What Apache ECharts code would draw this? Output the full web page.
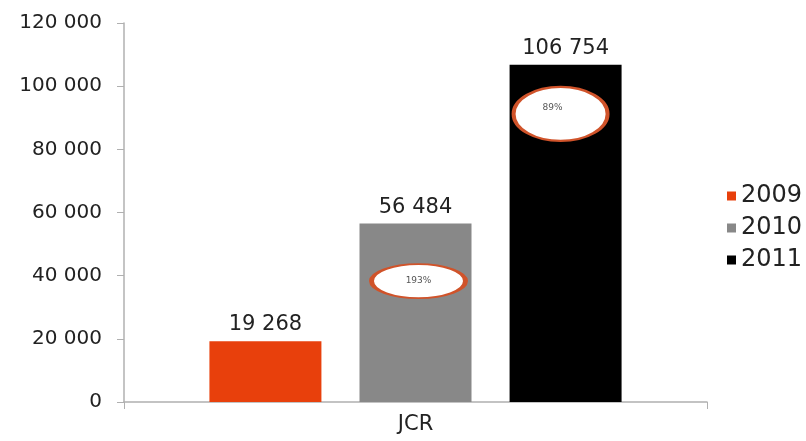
<!DOCTYPE html>
<html>
<head>
<meta charset="utf-8">
<script src="https://cdn.jsdelivr.net/npm/echarts@6/dist/echarts.min.js"></script>
<style>html,body{margin:0;padding:0;background:#fff}#c{width:806px;height:441px}</style>
</head>
<body>
<div id="c"></div>
<script>
var categories = ['JCR'];
var seriesNames = ['2009', '2010', '2011'];
var values2009 = [19268];
var values2010 = [56484];
var values2011 = [106754];
var growthLabels = ['', '193%', '89%'];
var growthY = [null, 38300, 91200];
var colors = ['#e8400c', '#888888', '#000000'];
var yTicks = [0, 20000, 40000, 60000, 80000, 100000, 120000];

function fmt(v) { return String(v).replace(/\B(?=(\d{3})+(?!\d))/g, ' '); }

var allValues = [values2009, values2010, values2011];
var FONT = 'DejaVu Sans';
var series = seriesNames.map(function (name, i) {
  var s = {
    name: name,
    type: 'bar',
    data: allValues[i],
    barWidth: 112,
    barGap: '34%',
    itemStyle: { color: colors[i] },
    label: {
      show: true, position: 'top', distance: 6,
      formatter: function (p) { return fmt(p.value); },
      fontFamily: FONT, fontSize: 21, color: '#222'
    }
  };
  if (growthLabels[i]) {
    s.markPoint = {
      symbol: 'circle',
      symbolSize: i === 1 ? [94, 34] : [94, 54],
      symbolOffset: i === 1 ? [3, 0] : [-5, 0],
      itemStyle: { color: '#ffffff', borderColor: '#d0532a', borderWidth: 3 },
      label: { show: true, formatter: growthLabels[i], fontFamily: FONT, fontSize: 9, color: '#555', offset: i === 2 ? [-8, -6] : [0, 0] },
      data: [{ coord: [categories[0], growthY[i]] }],
      animation: false
    };
  }
  return s;
});

var chart = echarts.init(document.getElementById('c'));
chart.setOption({
  animation: false,
  backgroundColor: '#fff',
  grid: { left: 124, right: 99, top: 23, bottom: 39 },
  legend: {
    orient: 'vertical', left: 722, top: 179,
    icon: 'rect', itemWidth: 9, itemHeight: 9, itemGap: 8,
    textStyle: { fontFamily: FONT, fontSize: 24, color: '#222' },
    data: seriesNames
  },
  xAxis: {
    type: 'category', data: categories,
    axisLine: { lineStyle: { color: '#b0b0b0', width: 1.5 } },
    axisTick: { show: true, length: 7, lineStyle: { color: '#b0b0b0' } },
    axisLabel: { fontFamily: FONT, fontSize: 21, color: '#222', margin: 12 }
  },
  yAxis: {
    type: 'value', min: yTicks[0], max: yTicks[yTicks.length - 1], interval: 20000,
    splitLine: { show: false },
    axisLine: { show: true, lineStyle: { color: '#b0b0b0', width: 1.5 } },
    axisTick: { show: true, length: 7, lineStyle: { color: '#b0b0b0' } },
    axisLabel: { fontFamily: FONT, fontSize: 20, color: '#222', margin: 22, formatter: function (v) { return fmt(v); } }
  },
  series: series
});
</script>
</body>
</html>
